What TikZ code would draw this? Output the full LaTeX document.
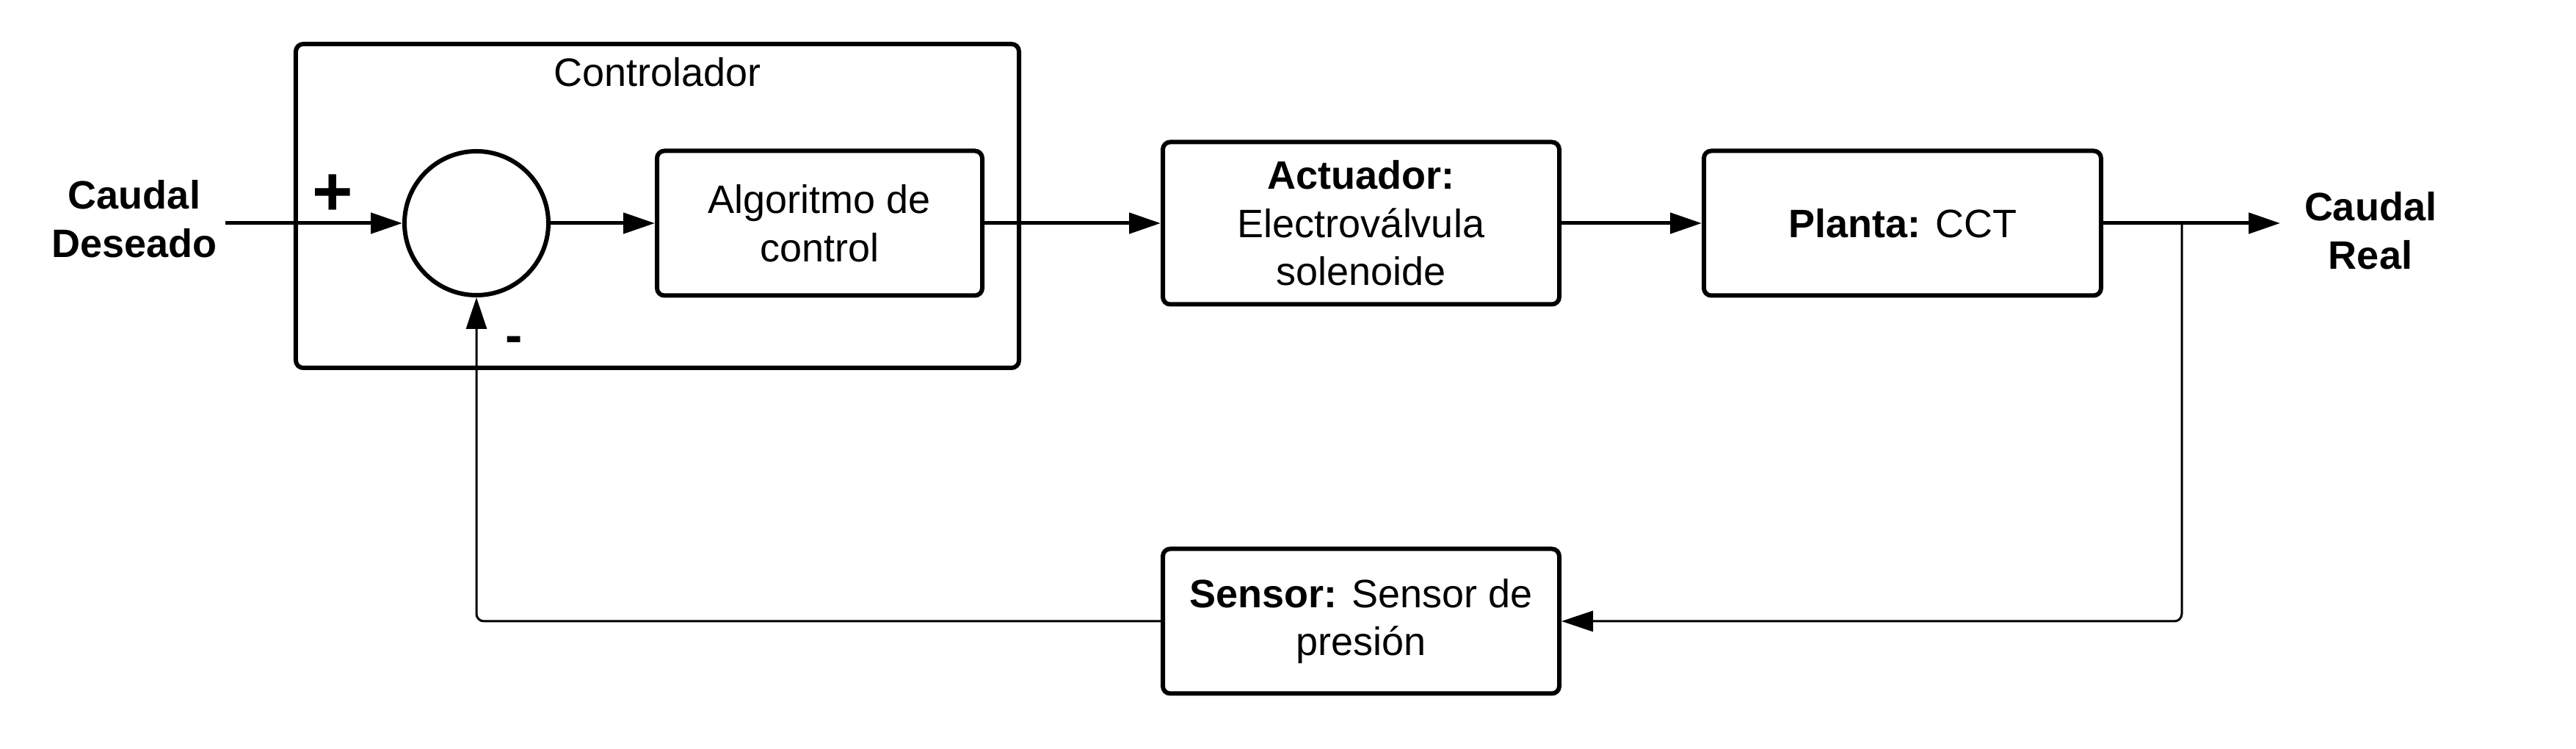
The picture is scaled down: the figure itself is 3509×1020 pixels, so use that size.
\documentclass[tikz,border=0pt]{standalone}
\usepackage{fontspec}
\setmainfont{Liberation Sans}
\usetikzlibrary{arrows.meta}
\tikzset{
  blk/.style={draw, line width=1.2pt, rounded corners=2pt, align=center, inner sep=2pt, font=\fontsize{10.8}{13.1}\selectfont},
  sumc/.style={draw, circle, line width=1.2pt, minimum size=39.2pt, inner sep=0pt},
  lbl/.style={align=center, font=\fontsize{10.8}{13.1}\selectfont\bfseries},
  sgn/.style={font=\fontsize{14}{16}\selectfont\bfseries, inner sep=0pt},
  conn/.style={line width=1pt, -{Triangle[length=8.6pt,width=5.6pt]}},
  fb/.style={line width=0.6pt, rounded corners=2pt, -{Triangle[length=8.6pt,width=5.6pt]}}
}
\begin{document}
\begin{tikzpicture}[x=0.2pt,y=-0.2pt]
\useasboundingbox (0,0) rectangle (3509,1020);
\node[blk, minimum width=197pt, minimum height=88.2pt] (ctrl) at (895.5,280.5) {};
\node[font=\fontsize{10.8}{13.1}\selectfont] (ctrllbl) at (895.5,98) {Controlador};
\node[sumc] (sum) at (649,304) {};
\node[blk, minimum width=88.6pt, minimum height=39.4pt] (alg) at (1116.5,304) {Algoritmo de\\control};
\node[blk, minimum width=108pt, minimum height=44.2pt] (act) at (1854,304) {\textbf{Actuador:}\\Electroválvula\\solenoide};
\node[blk, minimum width=108.2pt, minimum height=39.4pt] (pla) at (2591.5,304) {\textbf{Planta:} CCT};
\node[blk, minimum width=108pt, minimum height=39.4pt] (sen) at (1854,846) {\textbf{Sensor:} Sensor de\\presión};
\node[lbl] (in) at (183,298) {Caudal\\Deseado};
\node[lbl] (out) at (3229,314) {Caudal\\Real};
\node[sgn, font=\fontsize{19}{20}\selectfont\bfseries] (plus) at (453,266) {+};
\node[sgn] (minus) at (700,469) {-};
\coordinate (start) at (307,304);
\coordinate (end) at (3106,304);
\coordinate (br) at (2972,304);
\coordinate (brd) at (2972,846);
\coordinate (fbl) at (649,846);
\draw[conn] (start) -- (sum.west);
\draw[conn] (sum.east) -- (alg.west);
\draw[conn] (alg.east) -- (act.west);
\draw[conn] (act.east) -- (pla.west);
\draw[conn] (pla.east) -- (end);
\draw[fb] (br) -- (brd) -- (sen.east);
\draw[fb] (sen.west) -- (fbl) -- (sum.south);
\end{tikzpicture}
\end{document}
